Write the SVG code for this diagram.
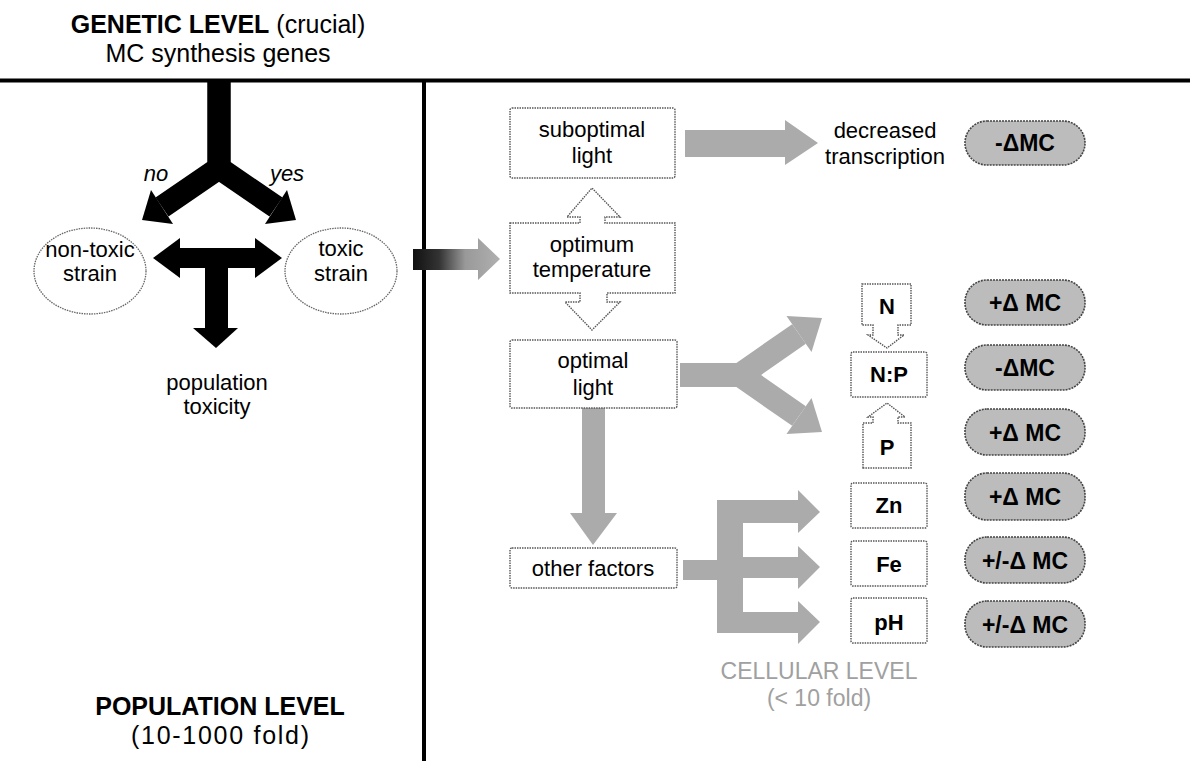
<svg xmlns="http://www.w3.org/2000/svg" width="1190" height="761" viewBox="0 0 1190 761">
<defs>
<style>
text{font-family:"Liberation Sans",Arial,sans-serif;fill:#000;text-anchor:middle}
.t{font-size:22px}
.b{font-weight:bold}
.h{font-size:25px}
.box{fill:#fff;stroke:#555;stroke-width:1.4;stroke-dasharray:1.5 1}
.circ{fill:#fff;stroke:#666;stroke-width:1.3;stroke-dasharray:1.5 1}
.pill{fill:#bcbcbc;stroke:#444;stroke-width:1.6;stroke-dasharray:2 1}
.pt{font-size:23px;font-weight:bold}
.blk{fill:#000}
.gry{fill:#ababab}
.gs{fill:none;stroke:#ababab;stroke-linejoin:miter}
.ks{fill:none;stroke:#000;stroke-linejoin:miter}
.cell{fill:#a0a0a0;font-size:23px}
</style>
<linearGradient id="gg" x1="0" y1="0" x2="1" y2="0">
<stop offset="0" stop-color="#111"/>
<stop offset="0.3" stop-color="#333"/>
<stop offset="0.6" stop-color="#999"/>
<stop offset="1" stop-color="#b0b0b0"/>
</linearGradient>
</defs>
<rect width="1190" height="761" fill="#fff"/>

<g id="dividers">
<line x1="0" y1="80.5" x2="1190" y2="80.5" stroke="#000" stroke-width="4"/>
<line x1="424" y1="80" x2="424" y2="761" stroke="#000" stroke-width="4"/>
</g>

<g id="connectors">
<path class="ks" stroke-width="23" d="M219,82 V168 L162,207"/>
<path class="ks" stroke-width="23" d="M219,82 V168 L276,207"/>
<polygon class="blk" points="142,220 151,190 173,224"/>
<polygon class="blk" points="296,220 287,190 265,224"/>
<rect class="blk" x="178" y="248" width="79" height="20"/>
<polygon class="blk" points="153,258 180,238 180,278"/>
<polygon class="blk" points="282,258 255,238 255,278"/>
<rect class="blk" x="205" y="258" width="23" height="72"/>
<polygon class="blk" points="193,328 238,328 216,348"/>
<path fill="url(#gg)" d="M413,249 H478 V238 L500,259 L478,280 V270 H413 Z"/>
<path class="gry" d="M685,130 H785 V120 L818,143 L785,165 V157 H685 Z"/>
<path class="gry" d="M582,408 H605 V513 H617 L593,545 L570,513 H582 Z"/>
<path class="gs" stroke-width="24" d="M680,375 H740 L799,334"/>
<path class="gs" stroke-width="24" d="M680,375 H740 L799,416"/>
<polygon class="gry" points="822,318 786.5,316 811.5,352"/>
<polygon class="gry" points="822,432 786.5,434 811.5,398"/>
<path class="gry" d="M683,560 H717 V500 H798 V490 L820,512 L798,533 V523 H743 V557 H798 V546 L820,567 L798,589 V578 H743 V612 H798 V601 L820,622 L798,644 V633 H717 V580 H683 Z"/>
</g>

<g id="title">
<text class="h" x="218" y="33"><tspan class="b">GENETIC LEVEL</tspan> (crucial)</text>
<text class="h" x="218" y="62">MC synthesis genes</text>
</g>
<g id="label-no"><text class="t" x="156" y="181" font-style="italic">no</text></g>
<g id="label-yes"><text class="t" x="287" y="181" font-style="italic">yes</text></g>

<g id="node-nontoxic">
<ellipse class="circ" cx="90" cy="271" rx="56" ry="43"/>
<text class="t" x="90" y="257">non-toxic</text>
<text class="t" x="90" y="281">strain</text>
</g>
<g id="node-toxic">
<ellipse class="circ" cx="341" cy="271" rx="56" ry="43"/>
<text class="t" x="341" y="256">toxic</text>
<text class="t" x="341" y="281">strain</text>
</g>
<g id="node-poptox">
<text class="t" x="217" y="390">population</text>
<text class="t" x="217" y="414">toxicity</text>
</g>

<g id="node-suboptimal">
<rect class="box" x="510" y="108" width="165" height="70" rx="2"/>
<text class="t" x="592" y="137">suboptimal</text>
<text class="t" x="592" y="163">light</text>
</g>
<g id="node-temperature">
<path class="box" d="M510,223 H580 V217 H567 L592,188 L620,217 H605 V223 H675 V293 H607 V302 H620 L592,330 L565,302 H580 V293 H510 Z"/>
<text class="t" x="592" y="252">optimum</text>
<text class="t" x="592" y="277">temperature</text>
</g>
<g id="node-optimal">
<rect class="box" x="510" y="340" width="167" height="68" rx="2"/>
<text class="t" x="593" y="368">optimal</text>
<text class="t" x="593" y="395">light</text>
</g>
<g id="node-other">
<rect class="box" x="510" y="548" width="167" height="40" rx="2"/>
<text class="t" x="593" y="576">other factors</text>
</g>
<g id="node-decreased">
<text class="t" x="885" y="138">decreased</text>
<text class="t" x="885" y="164">transcription</text>
</g>

<g id="node-N">
<path class="box" d="M862,284 H911 V325 H898 V335 H904 L887,348 L868,335 H873 V325 H862 Z"/>
<text class="t b" x="887" y="314">N</text>
</g>
<g id="node-NP">
<rect class="box" x="851" y="352" width="76" height="45" rx="2"/>
<text class="t b" x="889" y="382">N:P</text>
</g>
<g id="node-P">
<path class="box" d="M863,468 V423 H873 V417 H868 L887,403 L905,417 H898 V423 H911 V468 Z"/>
<text class="t b" x="887" y="455">P</text>
</g>
<g id="node-Zn">
<rect class="box" x="851" y="483" width="76" height="45" rx="2"/>
<text class="t b" x="889" y="513">Zn</text>
</g>
<g id="node-Fe">
<rect class="box" x="851" y="541" width="76" height="45" rx="2"/>
<text class="t b" x="889" y="572">Fe</text>
</g>
<g id="node-pH">
<rect class="box" x="851" y="598" width="76" height="45" rx="2"/>
<text class="t b" x="889" y="630">pH</text>
</g>

<g id="pill-1"><rect class="pill" x="965" y="121" width="120" height="44" rx="22"/><text class="pt" x="1025" y="151">-ΔMC</text></g>
<g id="pill-2"><rect class="pill" x="965" y="280" width="120" height="45" rx="22"/><text class="pt" x="1025" y="311">+Δ MC</text></g>
<g id="pill-3"><rect class="pill" x="965" y="345" width="120" height="45" rx="22"/><text class="pt" x="1025" y="376">-ΔMC</text></g>
<g id="pill-4"><rect class="pill" x="965" y="409" width="120" height="46" rx="22"/><text class="pt" x="1025" y="441">+Δ MC</text></g>
<g id="pill-5"><rect class="pill" x="965" y="473" width="120" height="47" rx="22"/><text class="pt" x="1025" y="505">+Δ MC</text></g>
<g id="pill-6"><rect class="pill" x="965" y="537" width="120" height="46" rx="22"/><text class="pt" x="1025" y="569">+/-Δ MC</text></g>
<g id="pill-7"><rect class="pill" x="965" y="601" width="120" height="46" rx="22"/><text class="pt" x="1025" y="633">+/-Δ MC</text></g>

<g id="label-population">
<text class="h b" x="220" y="715">POPULATION LEVEL</text>
<text class="h" x="220" y="744" textLength="178" lengthAdjust="spacing">(10-1000 fold)</text>
</g>
<g id="label-cellular">
<text class="cell" x="819" y="679">CELLULAR LEVEL</text>
<text class="cell" x="819" y="706">(&lt; 10 fold)</text>
</g>
</svg>
